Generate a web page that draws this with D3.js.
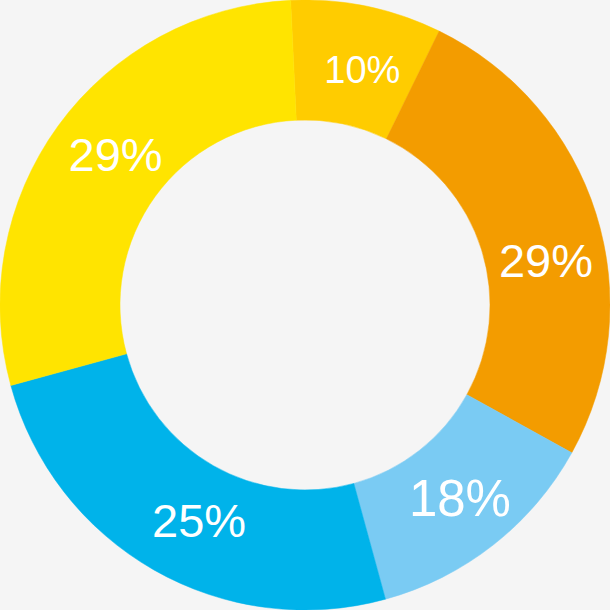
<!DOCTYPE html>
<meta charset="utf-8">
<head>
<style>
body { margin: 0; background: #f5f5f5; }
svg { display: block; }
</style>
</head>
<script src="https://d3js.org/d3.v7.min.js"></script>
<div id="donut"></div>
<script>

// slice shares (clockwise, starting near the top)
var shares = [8.0, 25.8, 12.7, 25.0, 28.5];
// the printed labels (they do not add up to 100, kept as drawn)
var labels = ["10%", "29%", "18%", "25%", "29%"];
var colors = ["#ffcc00", "#f39c00", "#7acbf3", "#00b3ea", "#ffe400"];

// label styling
var fontSizes = [38, 47, 51, 47, 47];
var labelNudge = [2, 7, -0.5, -3.5, 2.5]; // degrees, clockwise
var labelRadii = [242, 245, 248, 240, 242];

var width = 610, height = 610,
    outerR = 305, innerR = 185;

var svg = d3.select("#donut")
  .append("svg")
    .attr("width", width)
    .attr("height", height)
  .append("g")
    .attr("transform", "translate(" + 305 + "," + 305 + ")");

var rad = Math.PI / 180;
var start = -2.7 * rad;

var pie = d3.pie()
  .sort(null)
  .startAngle(start)
  .endAngle(start + 2 * Math.PI);

var arcs = pie(shares);

var arc = d3.arc()
  .innerRadius(innerR)
  .outerRadius(outerR);

svg.selectAll("path")
  .data(arcs)
  .enter()
  .append("path")
    .attr("d", arc)
    .attr("fill", function(d, i) { return colors[i]; })
    .attr("stroke", function(d, i) { return colors[i]; })
    .attr("stroke-width", 0.5);

// labels
svg.selectAll("text")
  .data(arcs)
  .enter()
  .append("text")
    .attr("x", function(d, i) {
      var a = (d.startAngle + d.endAngle) / 2 + labelNudge[i] * rad;
      return Math.sin(a) * labelRadii[i];
    })
    .attr("y", function(d, i) {
      var a = (d.startAngle + d.endAngle) / 2 + labelNudge[i] * rad;
      return -Math.cos(a) * labelRadii[i];
    })
    .attr("text-anchor", "middle")
    .attr("dominant-baseline", "central")
    .style("font-family", "'Liberation Sans', Arial, sans-serif")
    .style("font-size", function(d, i) { return fontSizes[i] + "px"; })
    .style("fill", "#ffffff")
    .text(function(d, i) { return labels[i]; });

</script>
